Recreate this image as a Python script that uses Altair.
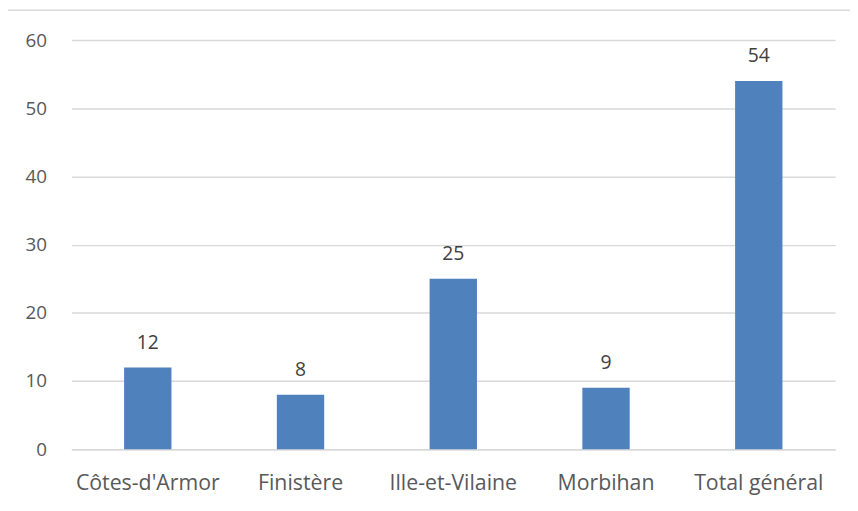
import altair as alt
import pandas as pd

categories = ["Côtes-d'Armor", "Finistère", "Ille-et-Vilaine", "Morbihan", "Total général"]
values = [12, 8, 25, 9, 54]

df = pd.DataFrame({"cat": categories, "val": values})

FONT = "Open Sans"
x = alt.X("cat:N", sort=categories, title=None,
          scale=alt.Scale(paddingInner=0.69, paddingOuter=0.345),
          axis=alt.Axis(labelAngle=0, labelFontSize=21.5, labelColor="#595959", labelFont=FONT,
                        labelPadding=24, ticks=False, domain=True, domainColor="#d9d9d9",
                        domainWidth=1.5, grid=False))
y = alt.Y("val:Q", title=None,
          scale=alt.Scale(domain=[0, 60], nice=False),
          axis=alt.Axis(values=[0, 10, 20, 30, 40, 50, 60], labelFontSize=19, labelColor="#595959",
                        labelFont=FONT, labelPadding=25, ticks=False, domain=False,
                        gridColor="#d9d9d9", gridWidth=1.5))

border = alt.Chart(pd.DataFrame({"a": [0]})).mark_rect(
    fill=None, stroke="#d9d9d9", strokeWidth=1.5
).encode(x=alt.value(-65), x2=alt.value(900), y=alt.value(-30), y2=alt.value(600))

bars = alt.Chart(df).mark_bar(color="#4f81bd").encode(x=x, y=y)
labels = alt.Chart(df).mark_text(baseline="alphabetic", dy=-19, fontSize=19.5, color="#404040", font=FONT).encode(
    x=alt.X("cat:N", sort=categories), y="val:Q", text="val:Q")

chart = alt.layer(border, bars, labels).properties(
    width=771, height=413,
    autosize=alt.AutoSizeParams(type="none"),
    padding={"left": 64, "top": 30, "right": 15, "bottom": 60},
    background="white",
).configure_view(stroke=None)

chart.save("out.html", embed_options={"renderer": "svg", "actions": False})
